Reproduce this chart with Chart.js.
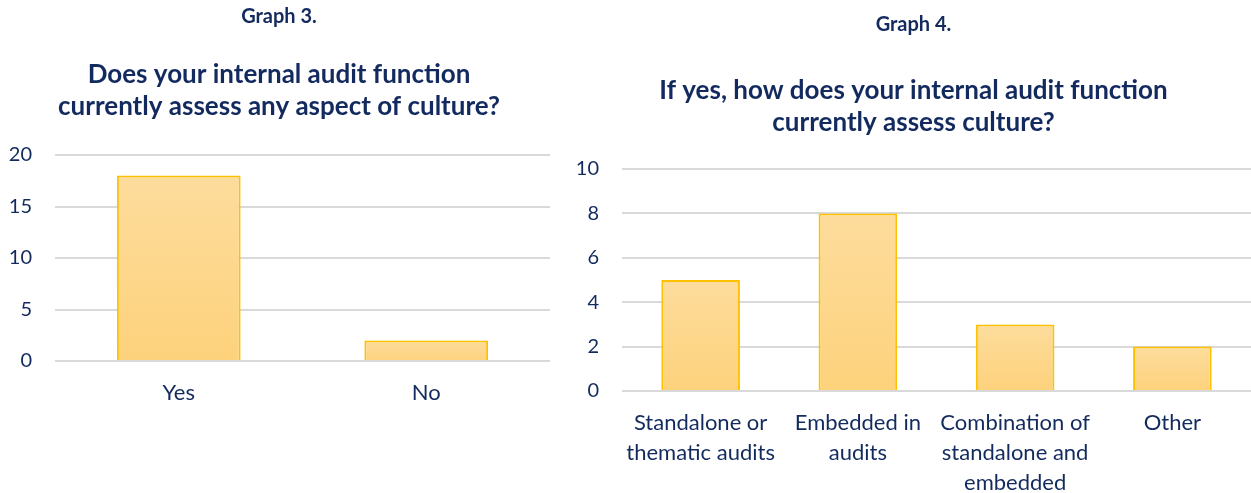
<!DOCTYPE html>
<html>
<head>
<meta charset="utf-8">
<script src="https://cdn.jsdelivr.net/npm/chart.js@4.4.1/dist/chart.umd.min.js"></script>
<style>
  html, body { margin: 0; padding: 0; background: #fff; overflow: hidden; }
  body { width: 1251px; height: 493px; position: relative; }
  .box { position: absolute; top: 0; height: 493px; }
  #box3 { left: 0; width: 570px; }
  #box4 { left: 560px; width: 720px; }
</style>
</head>
<body>
<div class="box" id="box3"><canvas id="graph3"></canvas></div>
<div class="box" id="box4"><canvas id="graph4"></canvas></div>
<script>
// graph 3 data
const labels3 = ['Yes', 'No'];
const values3 = [18, 2];
const ticks3 = [0, 5, 10, 15, 20];

// graph 4 data
const labels4 = [
    ['Standalone or', 'thematic audits'],
    ['Embedded in', 'audits'],
    ['Combination of', 'standalone and', 'embedded'],
    ['Other']
];
const values4 = [5, 8, 3, 2];
const ticks4 = [0, 2, 4, 6, 8, 10];

const navy = '#132A5E';
const fontFam = 'Lato, "Noto Sans", sans-serif';

// per-bar vertical gradient, light at the top
const barFill = (ctx) => {
    const chart = ctx.chart;
    if (!chart.chartArea) return '#FDD68A';
    const y = chart.scales.y;
    const top = y.getPixelForValue(ctx.raw);
    const bottom = y.getPixelForValue(0);
    const g = chart.ctx.createLinearGradient(0, top, 0, bottom);
    g.addColorStop(0, '#FDDC9C');
    g.addColorStop(1, '#FDD27C');
    return g;
}

const makeChart = (id, labels, values, ticks, opt) => {
    const dataConfig = {
        labels: labels,
        datasets: [{
            data: values,
            backgroundColor: barFill,
            borderColor: '#FFC000',
            borderWidth: 2,
            categoryPercentage: 1,
            barPercentage: 0.5
        }]
    }
    const config = {
        type: 'bar',
        data: dataConfig,
        options: {
            responsive: true,
            maintainAspectRatio: false,
            animation: false,
            layout: { padding: { left: opt.padLeft, right: opt.padRight, top: 0, bottom: 0 } },
            plugins: {
                legend: { display: false },
                tooltip: { enabled: false },
                title: {
                    display: true,
                    text: opt.graph,
                    color: navy,
                    font: { family: fontFam, size: 20, weight: 'bold', lineHeight: '22px' },
                    padding: { top: opt.t1Top, bottom: opt.t1Bottom }
                },
                subtitle: {
                    display: true,
                    text: opt.title,
                    color: navy,
                    font: { family: fontFam, size: 26, weight: 'bold', lineHeight: '32px' },
                    padding: { top: 0, bottom: opt.t2Bottom }
                }
            },
            scales: {
                x: {
                    grid: { display: false },
                    border: { display: false },
                    ticks: {
                        color: navy,
                        padding: 9,
                        maxRotation: 0,
                        autoSkip: false,
                        font: { family: fontFam, size: 22, lineHeight: '30px' }
                    },
                    afterFit: (s) => { s.height = opt.xHeight; }
                },
                y: {
                    min: 0,
                    max: ticks[ticks.length - 1],
                    afterBuildTicks: (s) => { s.ticks = ticks.map(v => ({ value: v })); },
                    grid: { color: '#D9D9D9', lineWidth: 2, drawTicks: false },
                    border: { display: false },
                    ticks: {
                        color: navy,
                        padding: 23,
                        font: { family: fontFam, size: 20 }
                    },
                    afterFit: (s) => { s.width = opt.yWidth; }
                }
            }
        }
    }
    return new Chart(document.getElementById(id), config);
}

makeChart('graph3', labels3, values3, ticks3, {
    graph: 'Graph 3.',
    title: ['Does your internal audit function', 'currently assess any aspect of culture?'],
    padLeft: 8, padRight: 20,
    t1Top: 6, t1Bottom: 31, t2Bottom: 32,
    xHeight: 132, yWidth: 47
});

makeChart('graph4', labels4, values4, ticks4, {
    graph: 'Graph 4.',
    title: ['If yes, how does your internal audit function', 'currently assess culture?'],
    padLeft: 16, padRight: 29,
    t1Top: 14, t1Bottom: 39, t2Bottom: 30,
    xHeight: 102, yWidth: 46
});
</script>
</body>
</html>
